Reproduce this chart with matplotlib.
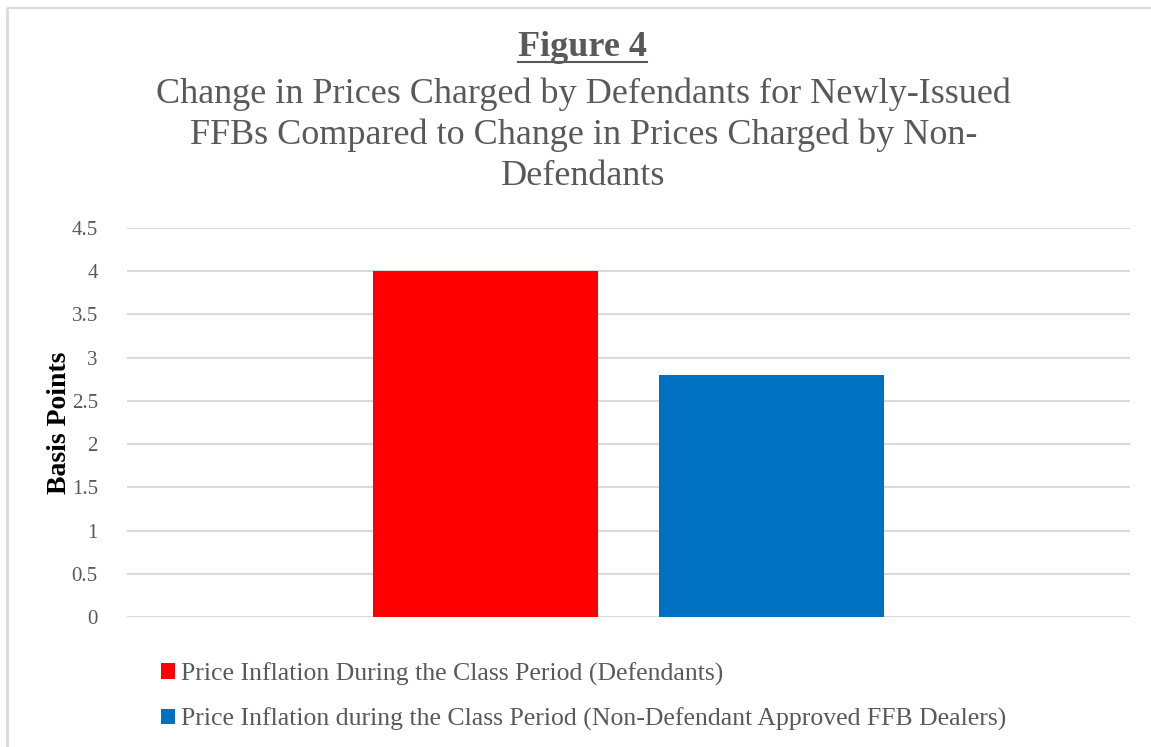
import numpy as np
import matplotlib.pyplot as plt
from matplotlib.lines import Line2D

# Dữ liệu
series_names = ['Price Inflation During the Class Period (Defendants)',
                'Price Inflation during the Class Period (Non-Defendant Approved FFB Dealers)']
values = [4.0, 2.8]
colors = ['#ff0000', '#0070c0']
yticks = np.arange(0, 4.51, 0.5)
ytick_labels = ['0', '0.5', '1', '1.5', '2', '2.5', '3', '3.5', '4', '4.5']

plt.rcParams['font.family'] = ['Liberation Serif', 'DejaVu Serif']
grey = '#595959'

fig = plt.figure(figsize=(11.51, 7.47), dpi=100)
ax = fig.add_axes([127 / 1151, 1 - 617 / 747, 1003 / 1151, 389 / 747])

# viền khung biểu đồ (trái và trên)
bx, by = 6.5 / 1151, 1 - 7.5 / 747
fig.add_artist(Line2D([bx, bx], [-0.01, by], transform=fig.transFigure,
                      color='#d9d9d9', linewidth=2, solid_capstyle='butt'))
fig.add_artist(Line2D([bx, 1.01], [by, by], transform=fig.transFigure,
                      color='#d9d9d9', linewidth=1.5, solid_capstyle='butt'))

width = 0.225
offsets = [-0.1425, 0.1425]
for v, c, off, name in zip(values, colors, offsets, series_names):
    ax.bar(off, v, width=width, color=c, label=name, zorder=3)

ax.set_xlim(-0.5, 0.5)
ax.set_ylim(0, 4.5)
ax.set_yticks(yticks)
ax.set_yticklabels(ytick_labels, color=grey, fontsize=15)
ax.set_xticks([])
ax.tick_params(axis='y', length=0, pad=21)
ax.grid(axis='y', color='#d9d9d9', linewidth=1.5, zorder=0)
for s in ax.spines.values():
    s.set_visible(False)
ax.set_ylabel('Basis Points', fontsize=20, fontweight='bold', color='black', labelpad=0)

# Tiêu đề
t = fig.text(0.506, 1 - 47 / 747, 'Figure 4', ha='center', va='center',
             fontsize=26, fontweight='bold', color=grey)
fig.text(0.507, 1 - 135 / 747,
         'Change in Prices Charged by Defendants for Newly-Issued\n'
         'FFBs Compared to Change in Prices Charged by Non-\nDefendants',
         ha='center', va='center', fontsize=26, color=grey, linespacing=1.3)

fig.canvas.draw()
bb = t.get_window_extent(fig.canvas.get_renderer()).transformed(fig.transFigure.inverted())
fig.add_artist(Line2D([bb.x0, bb.x1], [bb.y0 + 0.002, bb.y0 + 0.002],
                      transform=fig.transFigure, color=grey, linewidth=1.5))

# Chú thích
leg = fig.legend(loc='upper left', bbox_to_anchor=(151 / 1151, 1 - 652 / 747),
                 frameon=False, fontsize=18.5, handlelength=0.55, handleheight=0.55,
                 handletextpad=0.2, labelspacing=0.85, borderaxespad=0)
for txt in leg.get_texts():
    txt.set_color(grey)

fig.savefig('out.png', dpi=100)
